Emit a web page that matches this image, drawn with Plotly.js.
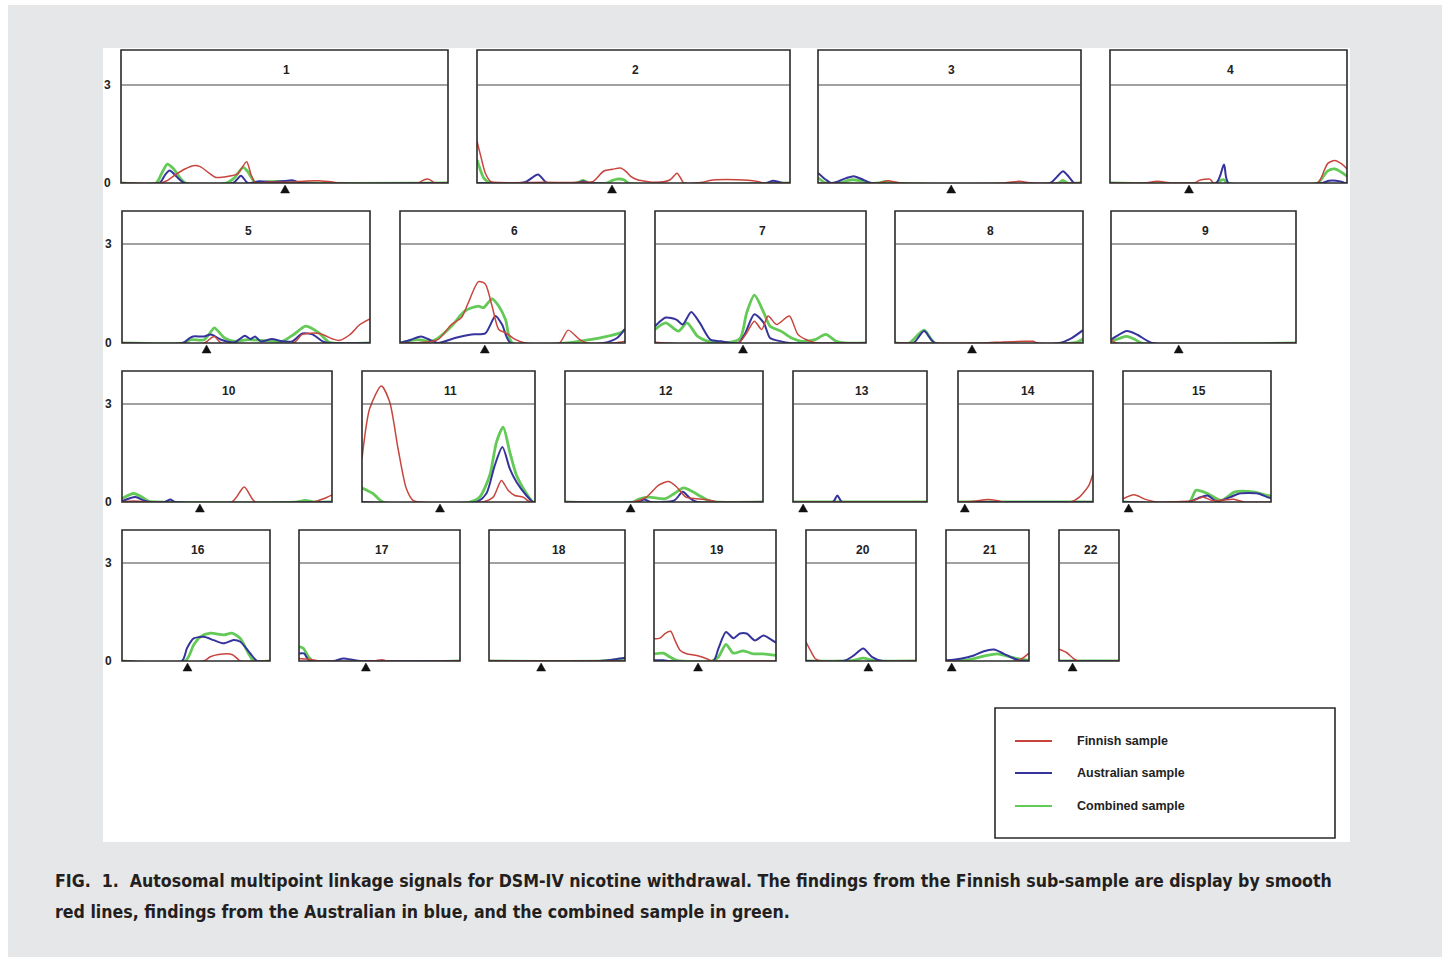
<!DOCTYPE html>
<html><head><meta charset="utf-8">
<script src="https://cdn.plot.ly/plotly-3.0.1.min.js"></script>
<style>html,body{margin:0;padding:0;background:#fff}#chart{width:1450px;height:961px}</style>
</head><body><div id="chart"></div>
<script>
// ---------- DATA (x = position in cM, y = LOD) ----------
const chromLabels = ['1','2','3','4','5','6','7','8','9','10','11','12','13','14','15','16','17','18','19','20','21','22'];
const chromLength = [289,277,233,210,220,199,187,166,164,186,153,175,119,119,131,131,142,120,108,97,73,53];
const centromere  = [145,119.5,118,70,75,75,78,68,60,69,69,58,9,6,5,58,59,46,39,55,5,12];
const seriesNames = ['Finnish sample','Australian sample','Combined sample'];
const captionLines = [
  'FIG.  1.  Autosomal multipoint linkage signals for DSM-IV nicotine withdrawal. The findings from the Finnish sub-sample are display by smooth',
  'red lines, findings from the Australian in blue, and the combined sample in green.'
];

const c1_fin = [[0,0],[34,0],[40,0.06],[48,0.25],[56,0.42],[64,0.53],[70,0.5],[78,0.3],[84,0.17],[94,0.2],[103,0.28],[111,0.65],[115,0.25],[119,0],[130,0.03],[150,0.02],[164,0.06],[175,0.07],[187,0.03],[193,0],[262,0],[268,0.1],[271,0.12],[274,0.08],[277,0],[289,0]];
const c1_aus = [[0,0],[34,0],[39,0.25],[43,0.38],[49,0.2],[56,0],[99,0],[106,0.22],[112,0],[122,0.05],[135,0.03],[145,0.06],[152,0.08],[158,0],[289,0]];
const c1_com = [[0,0],[31,0],[36,0.3],[41,0.58],[46,0.45],[53,0.12],[57,0],[93,0],[100,0.15],[108,0.48],[112,0.35],[119,0],[130,0.04],[150,0.04],[165,0],[289,0]];

const c2_fin = [[0,1.28],[3.5,0.8],[7.4,0.3],[12,0.05],[15,0.02],[60,0.02],[94,0.02],[103,0.05],[112,0.36],[120,0.42],[127,0.46],[132,0.35],[136,0.2],[142,0.1],[159,0.02],[171,0.1],[177,0.3],[181,0.1],[183,0],[200,0.02],[206,0.08],[230,0.1],[248,0.05],[254,0],[277,0]];
const c2_aus = [[0,0],[38,0],[44,0.05],[54,0.26],[62,0],[88,0],[94,0.05],[99,0],[256,0],[262,0.07],[268,0.02],[271,0],[277,0]];
const c2_com = [[0,0.71],[3,0.4],[6,0.15],[12,0],[88,0],[94,0.08],[99,0],[115,0],[120,0.08],[124,0.12],[130,0.1],[134,0],[277,0]];

const c3_fin = [[0,0],[54,0],[62,0.07],[73,0],[165,0],[178,0.05],[190,0],[233,0]];
const c3_aus = [[0,0.31],[7,0.1],[11.7,0],[17.8,0.05],[25,0.15],[31.7,0.21],[40,0.1],[47,0],[205.5,0],[212,0.2],[217,0.36],[222,0.2],[227,0],[233,0]];
const c3_com = [[0,0.16],[7,0],[20,0],[27,0.08],[31,0.1],[40,0.05],[44,0],[54,0],[60,0.05],[67,0],[213,0],[217,0.08],[221,0],[233,0]];

const c4_fin = [[0,0],[30,0],[42,0.05],[55,0],[76,0.02],[79,0.08],[88.6,0.12],[91.7,0],[184,0],[190,0.4],[193,0.6],[199,0.69],[205,0.59],[210,0.43]];
const c4_aus = [[0,0],[94,0],[101,0.57],[105,0],[188,0],[194,0.07],[204,0.05],[208,0],[210,0]];
const c4_com = [[0,0],[94,0],[98,0.08],[101,0.1],[104,0],[184,0],[190,0.25],[193,0.37],[199,0.43],[205,0.33],[210,0.21]];

const c5_fin = [[0,0],[73,0],[79,0.15],[82,0.2],[88,0],[152,0],[160,0.26],[175,0.29],[187,0.12],[193,0.08],[202,0.25],[211,0.56],[220,0.73]];
const c5_aus = [[0,0],[54,0],[60,0.15],[63,0.2],[73,0.2],[79,0.26],[88,0.1],[100,0.02],[109,0.22],[114,0.12],[118,0.2],[123,0.05],[133,0.12],[142,0.05],[151,0.05],[160,0.29],[169,0.26],[178,0.05],[184,0],[220,0]];
const c5_com = [[0,0],[54,0],[61,0.1],[73,0.1],[79,0.35],[82,0.46],[91,0.15],[100,0.05],[112,0.1],[124,0.08],[142,0.05],[152,0.25],[163,0.51],[175,0.3],[184,0.02],[220,0]];

const c6_fin = [[0,0],[21,0.02],[33.5,0.1],[45.5,0.56],[54.4,0.77],[60.4,1.22],[69.4,1.86],[75.4,1.79],[81.4,1.12],[87.3,0.41],[93.3,0.31],[102.3,0.1],[111,0],[141,0],[148.7,0.39],[159,0.1],[165,0],[190,0],[199,0.05]];
const c6_aus = [[0,0],[9.6,0.1],[18.5,0.2],[27.5,0.08],[33.5,0],[48.5,0.15],[63.4,0.26],[75.4,0.29],[84.4,0.82],[90.3,0.56],[97.8,0],[180,0],[192,0.15],[199,0.43]];
const c6_com = [[0,0],[15.6,0.1],[27.5,0.05],[33.5,0.15],[45.5,0.51],[57.4,0.97],[69.4,1.12],[73.9,1.07],[81.4,1.34],[87.3,1.12],[93.3,0.71],[99.3,0],[147,0],[168,0.1],[183,0.2],[195,0.31],[199,0.41]];

const c7_fin = [[0,0.02],[10,0],[73.8,0],[81.3,0.31],[88.1,0.66],[94.6,0.41],[100.2,0.82],[107.8,0.56],[119.1,0.82],[126.7,0.26],[138,0.05],[145.6,0],[187,0]];
const c7_aus = [[0,0.51],[9.5,0.77],[18.9,0.71],[24.6,0.56],[32.1,0.94],[39.7,0.61],[49.2,0.1],[58.6,0.05],[73.8,0],[79.4,0.26],[88.1,0.87],[96.4,0.61],[102,0.15],[111.6,0.05],[119,0],[187,0]];
const c7_com = [[0,0.41],[9.5,0.61],[20.8,0.36],[28.4,0.61],[37.8,0.2],[47.3,0.05],[66.2,0.02],[75.6,0.15],[81.3,0.92],[88.1,1.45],[96.4,0.92],[102,0.51],[111.6,0.36],[121,0.15],[130.5,0.05],[141.8,0.1],[151.3,0.26],[160.7,0.05],[168.3,0],[187,0]];

const c8_fin = [[0,0],[76.8,0],[95.7,0.03],[114.6,0.05],[122,0.05],[126,0],[166,0]];
const c8_aus = [[0,0],[16.3,0],[25.7,0.36],[35.2,0],[145,0],[156,0.15],[166,0.39]];
const c8_com = [[0,0],[12.5,0],[25.7,0.39],[35.2,0],[160,0.02],[166,0.12]];

const c9_fin = [[0,0.1],[4.5,0],[164,0]];
const c9_aus = [[0,0.1],[4.5,0.2],[14,0.36],[23.4,0.25],[36.7,0],[164,0]];
const c9_com = [[0,0.05],[8.3,0.15],[14,0.2],[21.6,0.1],[27.2,0],[164,0]];

const c10_fin = [[0,0],[10,0.03],[25,0],[97.3,0],[108.3,0.46],[118,0],[169.6,0],[178.5,0.1],[186,0.22]];
const c10_aus = [[0,0.02],[11.8,0.15],[19,0.05],[25,0],[38,0],[42.8,0.08],[47.2,0],[186,0]];
const c10_com = [[0,0.1],[10.3,0.26],[17.7,0.15],[23.6,0.02],[30,0],[155,0],[162,0.05],[170,0],[186,0]];

const c11_fin = [[0,1.33],[6.8,2.86],[17.1,3.55],[24.5,3.06],[31.9,1.63],[39.2,0.41],[45.1,0.05],[51,0],[107,0],[116,0.15],[123.3,0.66],[129.2,0.36],[135.1,0.2],[142.5,0.15],[148.4,0],[153,0]];
const c11_aus = [[0,0],[101.2,0],[110,0.26],[117.4,1.12],[124.2,1.68],[130.7,1.02],[136.6,0.61],[145.4,0.2],[151.3,0],[153,0]];
const c11_com = [[0,0.43],[9.7,0.26],[18.6,0],[95.3,0],[104.1,0.15],[113,0.82],[119,1.84],[124.8,2.29],[130.7,1.53],[136.6,0.82],[145.4,0.26],[151.3,0],[153,0]];

const c12_fin = [[0,0],[60,0],[72,0.15],[82.5,0.51],[91.8,0.63],[98.7,0.46],[106.9,0.15],[117,0.1],[129,0.05],[135,0],[175,0]];
const c12_aus = [[0,0],[64,0],[70,0.08],[76,0],[96.7,0.05],[104,0.31],[111,0.1],[117,0],[175,0]];
const c12_com = [[0,0],[60,0],[66,0.1],[74,0.15],[88.6,0.1],[96.7,0.26],[104.8,0.43],[113,0.31],[121,0.15],[129,0.02],[175,0]];

const c13_fin = [[0,0],[119,0]];
const c13_aus = [[0,0],[35.4,0],[39.4,0.2],[43.5,0],[119,0]];
const c13_com = [[0,0],[119,0]];

const c14_fin = [[0,0],[13.8,0.02],[26,0.08],[34,0.05],[40,0],[99,0],[107,0.15],[115.4,0.51],[119,0.87]];
const c14_aus = [[0,0],[119,0]];
const c14_com = [[0,0],[119,0]];

const c15_fin = [[0,0.1],[9.8,0.22],[20,0.08],[30,0],[62.6,0.05],[70.7,0.15],[78.8,0.05],[99,0.08],[107,0],[131,0]];
const c15_aus = [[0,0],[58.5,0],[66.6,0.12],[74.8,0.2],[82.9,0.02],[95,0.15],[103,0.26],[119.5,0.26],[127.6,0.15],[131,0.12]];
const c15_com = [[0,0],[58.5,0],[64.6,0.36],[74.8,0.26],[87,0.05],[99,0.31],[115.4,0.31],[127.6,0.2],[131,0.18]];

const c16_fin = [[0,0],[72.3,0],[78.2,0.13],[85.5,0.2],[97.3,0.2],[101.8,0.08],[104.7,0],[131,0]];
const c16_aus = [[0,0],[53,0],[57.5,0.39],[63.4,0.69],[72.3,0.74],[81,0.64],[90,0.54],[98.8,0.64],[104.7,0.59],[113.6,0.23],[119.5,0],[131,0]];
const c16_com = [[0,0],[56,0],[63.4,0.49],[69.3,0.74],[78.2,0.85],[90,0.8],[97.3,0.85],[104.7,0.69],[112,0.23],[116.5,0],[131,0]];

const c17_fin = [[0,0.08],[6.8,0.06],[12.7,0.03],[18.6,0],[65.8,0],[73.2,0.04],[77.6,0],[142,0]];
const c17_aus = [[0,0.23],[4.4,0.23],[8.3,0.03],[12.7,0],[30.4,0],[39.2,0.08],[48,0.03],[54,0],[142,0]];
const c17_com = [[0,0.44],[3.8,0.39],[8.3,0.13],[12.7,0],[142,0]];

const c18_fin = [[0,0],[120,0]];
const c18_aus = [[0,0],[97.6,0],[112.8,0.06],[120,0.1]];
const c18_com = [[0,0],[100,0],[112.8,0.04],[120,0.08]];

const c19_fin = [[0,0.68],[5.3,0.7],[9.7,0.84],[14.7,0.91],[18.6,0.63],[23,0.33],[28.9,0.22],[37.8,0.17],[46.6,0.07],[51,0],[55.5,0],[108,0]];
const c19_aus = [[0,0.02],[8.3,0.02],[14.2,0],[52.5,0],[57,0.38],[63.7,0.89],[70.2,0.7],[76.1,0.84],[82,0.84],[89.4,0.63],[96.8,0.78],[102.7,0.68],[108,0.56]];
const c19_com = [[0,0.22],[8.3,0.24],[14.2,0.12],[20,0.02],[51,0],[57,0.12],[63.7,0.51],[70.2,0.24],[79,0.31],[87.9,0.22],[96.8,0.22],[108,0.17]];

const c20_fin = [[0,0.58],[3.8,0.33],[8.3,0.07],[14.2,0],[97,0]];
const c20_aus = [[0,0],[33.3,0],[42.2,0.17],[50.4,0.38],[58.4,0.12],[67.3,0],[97,0]];
const c20_com = [[0,0],[42.2,0.02],[50.4,0.09],[58.4,0.02],[64,0],[97,0]];

const c21_fin = [[0,0],[62.8,0],[68.7,0.12],[73,0.24]];
const c21_aus = [[0,0.02],[12.7,0.07],[24.5,0.17],[33.3,0.3],[42.2,0.35],[51,0.22],[60,0.07],[65.8,0.02],[73,0]];
const c21_com = [[0,0],[18.6,0.03],[33.3,0.15],[45.1,0.22],[54,0.15],[62.8,0.07],[73,0.02]];

const c22_fin = [[0,0.36],[6.5,0.26],[12.4,0.09],[16.8,0],[53,0]];
const c22_aus = [[0,0],[53,0]];
const c22_com = [[0,0],[53,0]];

const finnish    = [c1_fin,c2_fin,c3_fin,c4_fin,c5_fin,c6_fin,c7_fin,c8_fin,c9_fin,c10_fin,c11_fin,c12_fin,c13_fin,c14_fin,c15_fin,c16_fin,c17_fin,c18_fin,c19_fin,c20_fin,c21_fin,c22_fin];
const australian = [c1_aus,c2_aus,c3_aus,c4_aus,c5_aus,c6_aus,c7_aus,c8_aus,c9_aus,c10_aus,c11_aus,c12_aus,c13_aus,c14_aus,c15_aus,c16_aus,c17_aus,c18_aus,c19_aus,c20_aus,c21_aus,c22_aus];
const combined   = [c1_com,c2_com,c3_com,c4_com,c5_com,c6_com,c7_com,c8_com,c9_com,c10_com,c11_com,c12_com,c13_com,c14_com,c15_com,c16_com,c17_com,c18_com,c19_com,c20_com,c21_com,c22_com];

// ---------- LAYOUT GEOMETRY (pixels) ----------
const W = 1450, H = 961;
const fx = p => p / W, fy = p => 1 - p / H;
const rows = [
  {top:50, line:85, bottom:183},
  {top:211, line:244, bottom:343},
  {top:371, line:404, bottom:502},
  {top:530, line:563, bottom:661}
];
const panelRow = [0,0,0,0,1,1,1,1,1,2,2,2,2,2,2,3,3,3,3,3,3,3];
const panelX = [[121,448],[477,790],[818,1081],[1110,1347],[122,370],[400,625],[655,866],[895,1083],[1111,1296],
                [122,332],[362,535],[565,763],[793,927],[958,1093],[1123,1271],
                [122,270],[299,460],[489,625],[654,776],[806,916],[946,1029],[1059,1119]];
const firstInRow = [0,4,9,15];

const COLORS = {fin:'#c8453e', aus:'#35349c', com:'#63c957'};
const TXT = '#222222';
const SANS = 'Liberation Sans, Arial, sans-serif';

const traces = [];
const layout = {
  width:W, height:H, margin:{l:0,r:0,t:0,b:0},
  paper_bgcolor:'#ffffff', plot_bgcolor:'rgba(0,0,0,0)',
  showlegend:false, shapes:[], annotations:[],
  font:{family:SANS, color:TXT}
};

// backgrounds
layout.shapes.push({type:'rect', xref:'paper', yref:'paper', x0:fx(8), x1:fx(1442), y0:fy(957), y1:fy(5), fillcolor:'#e6e7e8', line:{width:0}, layer:'below'});
layout.shapes.push({type:'rect', xref:'paper', yref:'paper', x0:fx(103), x1:fx(1350), y0:fy(842), y1:fy(48), fillcolor:'#ffffff', line:{width:0}, layer:'below'});

for (let i = 0; i < 22; i++) {
  const s = i === 0 ? '' : String(i + 1);
  const r = rows[panelRow[i]];
  const [l, rt] = panelX[i];
  const pxPerUnit = (r.bottom - r.line) / 3;
  const ymax = (r.bottom - r.top) / pxPerUnit;
  const first = firstInRow.includes(i);
  layout['xaxis' + s] = {domain:[fx(l), fx(rt)], range:[0, chromLength[i]], anchor:'y' + s,
    showgrid:false, zeroline:false, showline:false, showticklabels:false, ticks:'', fixedrange:true};
  layout['yaxis' + s] = {domain:[fy(r.bottom), fy(r.top)], range:[0, ymax], anchor:'x' + s,
    showgrid:false, zeroline:false, showline:false, fixedrange:true,
    tickmode:'array', tickvals: first ? [0,3] : [], ticktext: first ? ['0','3'] : [],
    showticklabels:first, ticks: first ? 'outside' : '', ticklen:7, tickcolor:'rgba(0,0,0,0)',
    tickfont:{family:SANS, size:12, color:TXT, weight:'bold'}};

  const groups = [[combined[i], COLORS.com, 2.8, seriesNames[2]], [australian[i], COLORS.aus, 2.0, seriesNames[1]], [finnish[i], COLORS.fin, 1.5, seriesNames[0]]];
  for (const [pts, col, w, nm] of groups) {
    traces.push({type:'scatter', mode:'lines', name:nm, x:pts.map(p => p[0]), y:pts.map(p => p[1]),
      xaxis:'x' + s, yaxis:'y' + s, line:{color:col, width:w, shape:'spline', smoothing:0.7},
      hoverinfo:'skip'});
  }
  // centromere marker: small triangle just below the axis, x taken from the data axis
  layout.shapes.push({type:'path', xref:'x' + s, yref:'paper', xsizemode:'pixel', ysizemode:'pixel',
    xanchor:centromere[i], yanchor:fy(r.bottom), path:'M0,-2 L4.5,-10 L-4.5,-10 Z',
    fillcolor:'#111', line:{color:'#111', width:0.5}, layer:'above'});

  // frame and strip
  layout.shapes.push({type:'rect', xref:'paper', yref:'paper', x0:fx(l), x1:fx(rt), y0:fy(r.bottom), y1:fy(r.top),
    line:{color:'#2a2a2a', width:1.6}, layer:'above'});
  layout.shapes.push({type:'line', xref:'paper', yref:'paper', x0:fx(l), x1:fx(rt), y0:fy(r.line), y1:fy(r.line),
    line:{color:'#444', width:1.2}, layer:'above'});
  layout.annotations.push({xref:'paper', yref:'paper', x:fx((l + rt) / 2 + 2), y:fy((r.top + r.line) / 2 + 3),
    text:chromLabels[i], showarrow:false, xanchor:'center', yanchor:'middle',
    font:{family:SANS, size:12, color:TXT, weight:'bold'}});
}

// legend box (drawn manually to match the reference)
layout.shapes.push({type:'rect', xref:'paper', yref:'paper', x0:fx(995), x1:fx(1335), y0:fy(838), y1:fy(708),
  line:{color:'#2a2a2a', width:1.6}, layer:'above'});
const legendRows = [[741, COLORS.fin, seriesNames[0]], [773, COLORS.aus, seriesNames[1]], [806, COLORS.com, seriesNames[2]]];
for (const [py, col, nm] of legendRows) {
  layout.shapes.push({type:'line', xref:'paper', yref:'paper', x0:fx(1015), x1:fx(1052), y0:fy(py), y1:fy(py),
    line:{color:col, width:2.2}, layer:'above'});
  layout.annotations.push({xref:'paper', yref:'paper', x:fx(1075), y:fy(py), text:nm, showarrow:false,
    xanchor:'left', yanchor:'middle', font:{family:SANS, size:12.5, color:TXT, weight:'bold'}});
}

// caption
const CAP = 'DejaVu Sans Condensed, Liberation Sans Narrow, sans-serif';
layout.annotations.push({xref:'paper', yref:'paper', x:fx(53), y:fy(881), text:captionLines[0], showarrow:false,
  xanchor:'left', yanchor:'middle', font:{family:CAP, size:17.6, color:'#231f20', weight:'bold'}});
layout.annotations.push({xref:'paper', yref:'paper', x:fx(53), y:fy(912), text:captionLines[1], showarrow:false,
  xanchor:'left', yanchor:'middle', font:{family:CAP, size:17.6, color:'#231f20', weight:'bold'}});

Plotly.newPlot('chart', traces, layout, {staticPlot:true, displayModeBar:false});
</script>
</body></html>
